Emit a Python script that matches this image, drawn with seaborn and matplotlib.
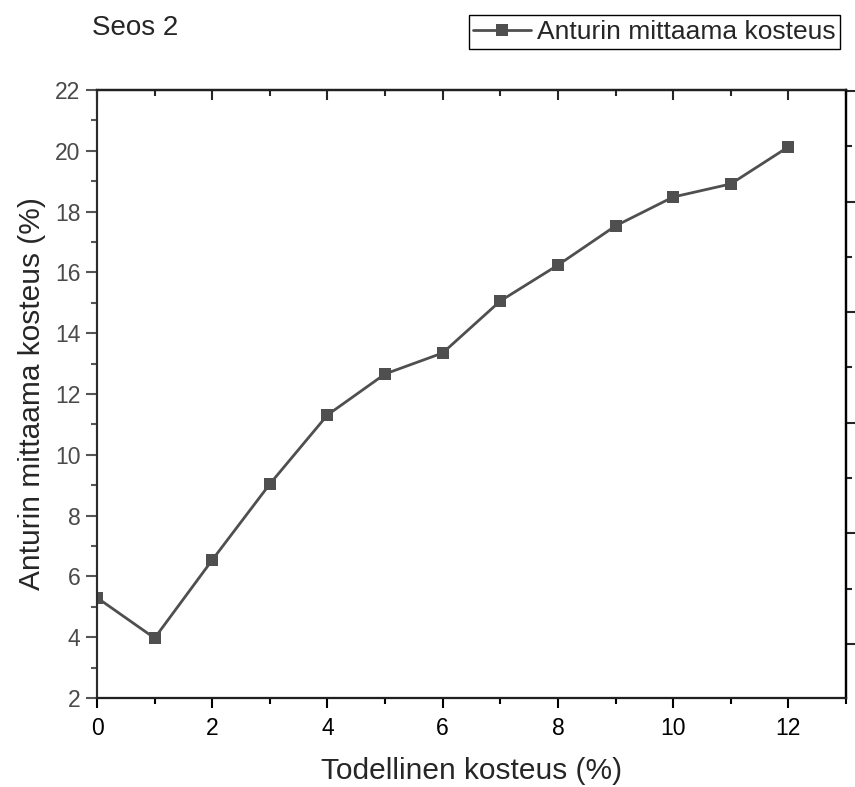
import numpy as np
import pandas as pd
import seaborn as sns
from matplotlib import pyplot as plt
from matplotlib.ticker import MultipleLocator

# data
todellinen = [0, 1, 2, 3, 4, 5, 6, 7, 8, 9, 10, 11, 12]
anturi = [5.3, 3.97, 6.54, 9.04, 11.31, 12.66, 13.35, 15.06, 16.24, 17.53, 18.48, 18.91, 20.13]
series_name = 'Anturin mittaama kosteus'
title_text = 'Seos 2'
x_label = 'Todellinen kosteus (%)'
y_label = 'Anturin mittaama kosteus (%)'

sns.set_theme(style='ticks')
plt.rcParams['font.family'] = ['Liberation Sans', 'DejaVu Sans']

df = pd.DataFrame({'x': todellinen, 'y': anturi})

fig = plt.figure(figsize=(8.55, 7.87), dpi=100)
ax = fig.add_axes([97 / 855, 89 / 787, 749 / 855, 608 / 787])

line_col = '#4f4f4f'
sns.lineplot(data=df, x='x', y='y', ax=ax, color=line_col, lw=2.0, marker='s',
             markersize=9, markeredgewidth=0, label=series_name, legend=False)

ax.set_xlim(0, 13)
ax.set_ylim(2, 22)
ax.xaxis.set_major_locator(MultipleLocator(2))
ax.xaxis.set_minor_locator(MultipleLocator(1))
ax.yaxis.set_major_locator(MultipleLocator(2))
ax.yaxis.set_minor_locator(MultipleLocator(1))

gray = '#555555'
for s in ['top', 'bottom', 'right']:
    ax.spines[s].set_color('black')
    ax.spines[s].set_linewidth(1.6)
ax.spines['left'].set_color(gray)
ax.spines['left'].set_linewidth(1.6)

ax.tick_params(axis='x', which='major', direction='out', length=7, width=1.5, color='black',
               labelsize=16.5, labelcolor='black', pad=7)
ax.tick_params(axis='x', which='minor', direction='out', length=4, width=1.5, color='black')
ax.tick_params(axis='y', which='major', direction='out', length=8, width=1.5, color=gray,
               labelsize=16.5, labelcolor='#4a4a4a', pad=4)
ax.tick_params(axis='y', which='minor', direction='out', length=4, width=1.5, color=gray)

# top ticks point inward
top = ax.secondary_xaxis('top')
top.xaxis.set_major_locator(MultipleLocator(2))
top.xaxis.set_minor_locator(MultipleLocator(1))
top.tick_params(which='major', direction='in', length=7, width=1.5, labeltop=False)
top.tick_params(which='minor', direction='in', length=4, width=1.5)
top.spines['top'].set_linewidth(1.6)

# right axis: ticks only, separate scale
ax2 = ax.twinx()
ax2.set_ylim(0.51, 6.01)
ax2.yaxis.set_major_locator(MultipleLocator(1))
ax2.yaxis.set_minor_locator(MultipleLocator(0.5))
ax2.tick_params(which='major', direction='out', length=8, width=1.5, labelright=False)
ax2.tick_params(which='minor', direction='out', length=4, width=1.5)
ax2.spines['right'].set_linewidth(1.6)
ax2.spines['right'].set_color('black')

ax.set_xlabel(x_label, fontsize=21.5, labelpad=12)
ax.set_ylabel(y_label, fontsize=21.5, labelpad=6)

fig.text(92 / 855, 1 - 28 / 787, title_text, fontsize=20, va='center', ha='left')

handles, labels = ax.get_legend_handles_labels()
fig.legend(handles, labels, loc='upper right', bbox_to_anchor=(840 / 855, 1 - 15 / 787),
           fontsize=19, frameon=True, fancybox=False, edgecolor='black', framealpha=1,
           handlelength=2.2, handletextpad=0.2, borderpad=0.18, borderaxespad=0)
fig.legends[0].get_frame().set_linewidth(1.0)

plt.savefig('out.png', dpi=100)
